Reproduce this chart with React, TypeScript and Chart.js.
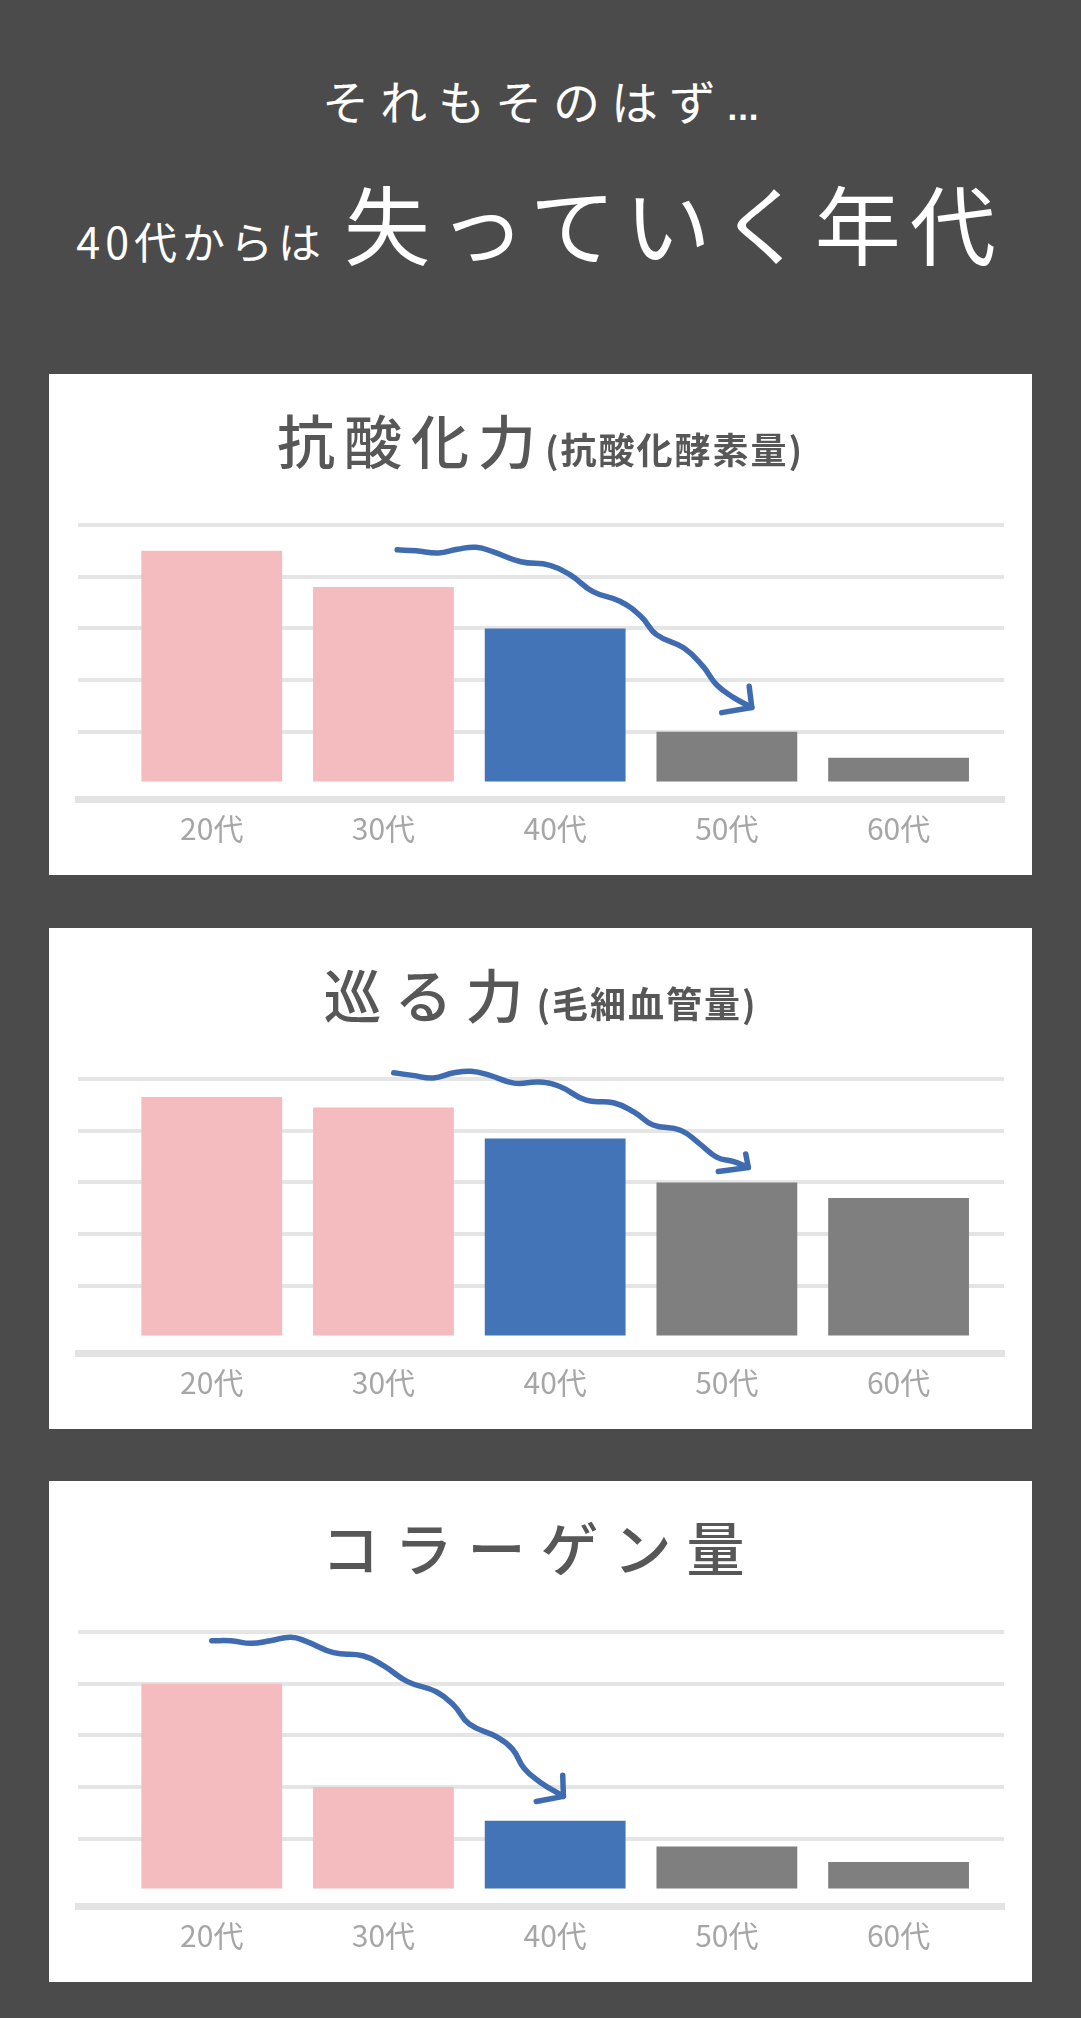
import { useEffect, useRef } from "react";
import { Chart, registerables } from "chart.js";

Chart.register(...registerables);

const FONT = '"Noto Sans CJK JP", "Noto Sans", sans-serif';
const BG = "#4b4b4b";
const ARROW_COLOR = "#3f6cb1";

const ageLabels = ["20代", "30代", "40代", "50代", "60代"];
const barColors = ["#f4bcbe", "#f4bcbe", "#4374b7", "#7f7f7f", "#7f7f7f"];

// bar heights, in gridline steps
const antioxidantValues = [4.5, 3.8, 3.0, 1.0, 0.5];
const circulationValues = [4.65, 4.45, 3.85, 3.0, 2.7];
const collagenValues = [4.0, 2.0, 1.35, 0.85, 0.55];

// hand-drawn arrows, [category position, value]
const antioxidantArrow = [
  [1.08, 4.52], [1.19, 4.5], [1.32, 4.46], [1.43, 4.53], [1.54, 4.57], [1.64, 4.48],
  [1.8, 4.29], [1.97, 4.22], [2.09, 4.03], [2.22, 3.71], [2.38, 3.52], [2.5, 3.23],
  [2.59, 2.88], [2.75, 2.62], [2.86, 2.27], [2.94, 1.91], [3.04, 1.66], [3.145, 1.47],
];
const antioxidantHead = [[3.13, 1.88], [3.145, 1.47], [2.97, 1.37]];

const circulationArrow = [
  [1.06, 5.12], [1.17, 5.07], [1.29, 5.02], [1.41, 5.12], [1.51, 5.15], [1.62, 5.07],
  [1.76, 4.92], [1.91, 4.94], [2.03, 4.85], [2.18, 4.59], [2.34, 4.54], [2.46, 4.36],
  [2.57, 4.11], [2.73, 4.01], [2.84, 3.75], [2.94, 3.49], [3.04, 3.4], [3.125, 3.29],
];
const circulationHead = [[3.11, 3.55], [3.125, 3.29], [2.95, 3.21]];

const collagenArrow = [
  [0.0, 4.83], [0.11, 4.83], [0.23, 4.78], [0.34, 4.83], [0.46, 4.9], [0.55, 4.82],
  [0.71, 4.6], [0.88, 4.54], [1.0, 4.35], [1.14, 4.04], [1.31, 3.84], [1.41, 3.58],
  [1.5, 3.22], [1.66, 2.97], [1.75, 2.74], [1.82, 2.36], [1.91, 2.1], [2.048, 1.82],
];
const collagenHead = [[2.044, 2.23], [2.048, 1.82], [1.89, 1.72]];

interface ChartProps {
  values: number[];
  arrow: number[][];
  head: number[][];
}

function DeclineChart({ values, arrow, head }: ChartProps) {
  const canvasRef = useRef<HTMLCanvasElement>(null);

  useEffect(() => {
    if (!canvasRef.current) return;
    const toPoints = (pts: number[][]) => pts.map(([x, y]) => ({ x, y }));

    const chart = new Chart(canvasRef.current, {
      type: "bar",
      data: {
        datasets: [
          {
            type: "line",
            data: toPoints(arrow),
            borderColor: ARROW_COLOR,
            borderWidth: 5.5,
            pointRadius: 0,
            tension: 0.45,
            borderCapStyle: "round",
            borderJoinStyle: "round",
            clip: false,
            order: 0,
          },
          {
            type: "line",
            data: toPoints(head),
            borderColor: ARROW_COLOR,
            borderWidth: 5.5,
            pointRadius: 0,
            tension: 0,
            borderCapStyle: "round",
            borderJoinStyle: "round",
            clip: false,
            order: 0,
          },
          {
            type: "bar",
            data: values.map((v, i) => ({ x: i, y: v })),
            backgroundColor: barColors,
            barPercentage: 0.82,
            categoryPercentage: 1,
            order: 1,
          },
        ] as any,
      },
      options: {
        animation: false,
        responsive: true,
        maintainAspectRatio: false,
        layout: { padding: { top: 151, left: 29, right: 28, bottom: 24 } },
        plugins: {
          legend: { display: false },
          tooltip: { enabled: false },
        },
        scales: {
          x: {
            type: "linear",
            min: -0.779,
            max: 4.614,
            offset: false,
            grid: { display: false, offset: false },
            border: { display: true, color: "#e3e3e3", width: 7 },
            ticks: {
              stepSize: 1,
              includeBounds: false,
              autoSkip: false,
              maxRotation: 0,
              padding: 4,
              color: "#a6a6a6",
              font: { family: FONT, size: 30 },
              callback: (v) => ageLabels[v as number] ?? "",
            },
          },
          y: {
            min: -0.3,
            max: 5,
            grid: {
              color: (ctx) => (ctx.tick && ctx.tick.value === 0 ? "rgba(0,0,0,0)" : "#e5e5e5"),
              lineWidth: 4,
              drawTicks: false,
            },
            border: { display: false },
            ticks: { display: false, stepSize: 1, includeBounds: false },
          },
        },
      },
    });

    return () => chart.destroy();
  }, [values, arrow, head]);

  return (
    <div style={{ position: "relative", width: 983, height: 501 }}>
      <canvas ref={canvasRef} />
    </div>
  );
}

interface PanelProps {
  top: number;
  title: string;
  note?: string;
  spacing: number;
  values: number[];
  arrow: number[][];
  head: number[][];
}

function Panel({ top, title, note, spacing, values, arrow, head }: PanelProps) {
  return (
    <div style={{ position: "absolute", left: 49, top, width: 983, height: 501, background: "#fff" }}>
      <DeclineChart values={values} arrow={arrow} head={head} />
      <div
        style={{
          position: "absolute",
          top: 36,
          left: 0,
          width: "100%",
          display: "flex",
          justifyContent: "center",
          alignItems: "baseline",
          color: "#575757",
          lineHeight: 1,
        }}
      >
        <span style={{ fontSize: 58, fontWeight: 500, letterSpacing: spacing }}>{title}</span>
        {note && <span style={{ fontSize: 36, fontWeight: 700, letterSpacing: 2 }}>{note}</span>}
      </div>
    </div>
  );
}

export default function App() {
  return (
    <div
      style={{
        position: "absolute",
        left: 0,
        top: 0,
        width: 1081,
        height: 2018,
        background: BG,
        fontFamily: FONT,
        overflow: "hidden",
      }}
    >
      <div
        style={{
          position: "absolute",
          top: 72,
          width: "100%",
          textAlign: "center",
          color: "#fff",
          fontSize: 47,
          lineHeight: 1.2,
          letterSpacing: 11,
        }}
      >
        それもそのはず<span style={{ fontFamily: "DejaVu Sans", fontSize: 28, letterSpacing: 0, fontWeight: 700 }}>...</span>
      </div>
      <div
        style={{
          position: "absolute",
          top: 170,
          width: "100%",
          display: "flex",
          justifyContent: "center",
          alignItems: "baseline",
          color: "#fff",
          lineHeight: 1.2,
        }}
      >
        <span style={{ fontSize: 43, letterSpacing: 5 }}>40代からは</span>
        <span style={{ fontSize: 86, letterSpacing: 9, marginLeft: 18 }}>失っていく年代</span>
      </div>

      <Panel
        top={374}
        title="抗酸化力"
        note="(抗酸化酵素量)"
        spacing={9}
        values={antioxidantValues}
        arrow={antioxidantArrow}
        head={antioxidantHead}
      />
      <Panel
        top={928}
        title="巡る力"
        note="(毛細血管量)"
        spacing={13}
        values={circulationValues}
        arrow={circulationArrow}
        head={circulationHead}
      />
      <Panel
        top={1481}
        title="コラーゲン量"
        spacing={15}
        values={collagenValues}
        arrow={collagenArrow}
        head={collagenHead}
      />
    </div>
  );
}
